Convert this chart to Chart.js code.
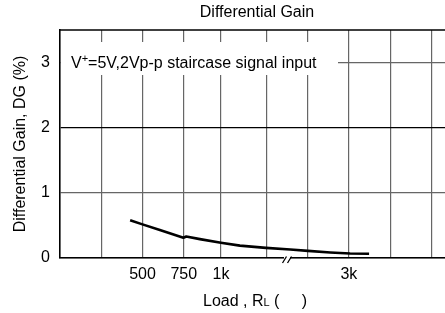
<!DOCTYPE html>
<html>
<head>
<meta charset="utf-8">
<script src="https://cdn.jsdelivr.net/npm/chart.js@4/dist/chart.umd.min.js"></script>
<style>
html,body{margin:0;padding:0;background:#fff;}
canvas{display:block;}
</style>
</head>
<body>
<canvas id="c" width="445" height="313"></canvas>
<script>
// ---- data ----
const chartTitle = 'Differential Gain';
const yAxisTitle = 'Differential Gain, DG (%)';
const noteText = ['V', '+', '=5V,2Vp-p staircase signal input'];
// x axis is a broken (non-uniform) load axis; positions are in grid-slot units
const xGridPos = [1, 2, 3, 3.9, 5, 6, 7, 8, 9];
const xGridLabels = ['', '500', '750', '1k', '', '', '3k', '', ''];
const yTickVals = [0, 1, 2, 3];
const curveX  = [1.70, 1.98, 2.42, 2.99, 3.06, 3.39, 3.90, 4.36, 4.99, 5.58, 6.01, 6.55, 7.03, 7.49];
const curveDG = [0.58, 0.52, 0.43, 0.31, 0.33, 0.29, 0.235, 0.19, 0.155, 0.13, 0.11, 0.085, 0.068, 0.066];

const FONT = '"Liberation Sans", Arial, Helvetica, sans-serif';

const decor = {
  id: 'decor',
  beforeDatasetsDraw(chart) {
    const {ctx, chartArea: a} = chart;
    ctx.save();
    // top frame line
    ctx.strokeStyle = '#000';
    ctx.lineWidth = 1.5;
    ctx.beginPath();
    ctx.moveTo(a.left, a.top);
    ctx.lineTo(a.right, a.top);
    ctx.stroke();
    // annotation box (white background covering the grid)
    ctx.fillStyle = '#fff';
    ctx.fillRect(a.left + 1, a.top + 12, 277, 33);
    // annotation text
    ctx.fillStyle = '#000';
    ctx.textBaseline = 'alphabetic';
    ctx.textAlign = 'left';
    let x = a.left + 11;
    const base = a.top + 38;
    ctx.font = '16px ' + FONT;
    ctx.fillText(noteText[0], x, base);
    x += ctx.measureText(noteText[0]).width;
    ctx.font = '11px ' + FONT;
    ctx.fillText(noteText[1], x, base - 6);
    x += ctx.measureText(noteText[1]).width;
    ctx.font = '16px ' + FONT;
    ctx.fillText(noteText[2], x, base);
    ctx.restore();
  },
  afterDraw(chart) {
    const {ctx, chartArea: a} = chart;
    ctx.save();
    // chart title
    ctx.fillStyle = '#000';
    ctx.font = '16px ' + FONT;
    ctx.textAlign = 'center';
    ctx.textBaseline = 'middle';
    ctx.fillText(chartTitle, 257, 13);
    // x axis title with small "L"
    const p1 = 'Load , R', p2 = 'L', p3 = ' (     )';
    ctx.textAlign = 'left';
    ctx.textBaseline = 'alphabetic';
    ctx.font = '16px ' + FONT;
    const w1 = ctx.measureText(p1).width, w3 = ctx.measureText(p3).width;
    ctx.font = '11px ' + FONT;
    const w2 = ctx.measureText(p2).width;
    let x = 255 - (w1 + w2 + w3) / 2;
    const base = 306;
    ctx.font = '16px ' + FONT;
    ctx.fillText(p1, x, base); x += w1;
    ctx.font = '11px ' + FONT;
    ctx.fillText(p2, x, base); x += w2;
    ctx.font = '16px ' + FONT;
    ctx.fillText(p3, x, base);
    // axis break marker "//"
    const bx = 287, by = a.bottom;
    ctx.fillStyle = '#fff';
    ctx.fillRect(bx - 3, by - 2, 6, 4);
    ctx.strokeStyle = '#000';
    ctx.lineWidth = 1.3;
    ctx.beginPath();
    ctx.moveTo(bx - 4.5, by + 5); ctx.lineTo(bx - 0.5, by - 1.5);
    ctx.moveTo(bx + 0.5, by + 5); ctx.lineTo(bx + 4.5, by - 1.5);
    ctx.stroke();
    ctx.restore();
  }
};

new Chart(document.getElementById('c'), {
  type: 'line',
  data: {
    datasets: [{
      data: curveX.map((x, i) => ({x: x, y: curveDG[i]})),
      borderColor: '#000',
      borderWidth: 2.6,
      pointRadius: 0,
      fill: false,
      tension: 0,
      borderJoinStyle: 'round'
    }]
  },
  options: {
    responsive: false,
    animation: false,
    devicePixelRatio: 1,
    layout: {padding: {top: 30, left: 0, right: 0, bottom: 0}},
    plugins: {legend: {display: false}, title: {display: false}, tooltip: {enabled: false}},
    scales: {
      x: {
        type: 'linear',
        min: 0,
        max: 9.33,
        afterFit(s) { s.height = 55; },
        afterBuildTicks(s) { s.ticks = xGridPos.map(v => ({value: v})); },
        ticks: {
          autoSkip: false,
          maxRotation: 0,
          padding: 7,
          color: '#000',
          font: {family: FONT, size: 16},
          callback(v) { const i = xGridPos.indexOf(v); return i >= 0 ? xGridLabels[i] : ''; }
        },
        grid: {color: '#666', lineWidth: 1.2, drawTicks: false},
        border: {color: '#000', width: 1.6}
      },
      y: {
        min: 0,
        max: 3.5,
        afterFit(s) { s.width = 60; },
        afterBuildTicks(s) { s.ticks = yTickVals.map(v => ({value: v})); },
        ticks: {
          padding: 10,
          color: '#000',
          font: {family: FONT, size: 16}
        },
        grid: {
          color: ctx => (ctx.tick && ctx.tick.value === 2 ? '#000' : '#666'),
          lineWidth: 1.2,
          drawTicks: false
        },
        border: {color: '#000', width: 1.6},
        title: {
          display: true,
          text: yAxisTitle,
          color: '#000',
          font: {family: FONT, size: 16},
          padding: {top: 11, bottom: 0}
        }
      }
    }
  },
  plugins: [decor]
});
</script>
</body>
</html>
